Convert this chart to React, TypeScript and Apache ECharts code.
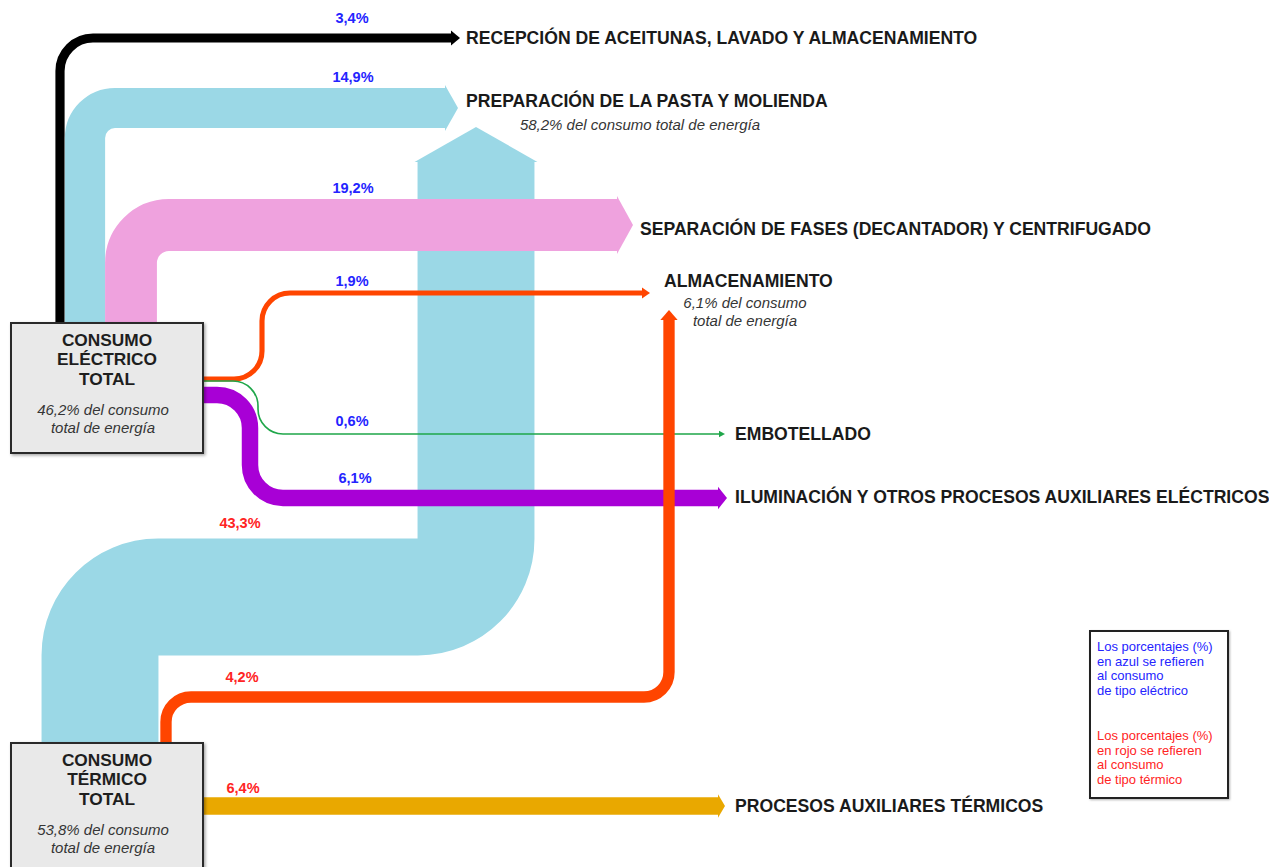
import React, { useEffect, useRef } from "react";
import * as echarts from "echarts";

const FONT = '"Liberation Sans", Arial, Helvetica, sans-serif';

// ---------------- DATA ----------------
const sourceNames = ["CONSUMO\nELÉCTRICO\nTOTAL", "CONSUMO\nTÉRMICO\nTOTAL"];
const sourceShares = [46.2, 53.8]; // % del consumo total de energía

const destinationNames = [
  "RECEPCIÓN DE ACEITUNAS, LAVADO Y ALMACENAMIENTO",
  "PREPARACIÓN DE LA PASTA Y MOLIENDA",
  "SEPARACIÓN DE FASES (DECANTADOR) Y CENTRIFUGADO",
  "ALMACENAMIENTO",
  "EMBOTELLADO",
  "ILUMINACIÓN Y OTROS PROCESOS AUXILIARES ELÉCTRICOS",
  "PROCESOS AUXILIARES TÉRMICOS",
];
const destinationShares: (number | null)[] = [null, 58.2, null, 6.1, null, null, null];

const electricTargets = [0, 1, 2, 3, 4, 5];
const electricValues = [3.4, 14.9, 19.2, 1.9, 0.6, 6.1];

const thermalTargets = [1, 3, 6];
const thermalValues = [43.3, 4.2, 6.4];

const legendElectric = ["Los porcentajes (%)", "en azul se refieren", "al consumo", "de tipo eléctrico"];
const legendThermal = ["Los porcentajes (%)", "en rojo se refieren", "al consumo", "de tipo térmico"];

// ---------------- LAYOUT / STYLE ----------------
const PX_PER_PCT = 2.7;
const BLUE_TXT = "#2424ff";
const RED_TXT = "#ff2424";

type FlowLayout = {
  color: string;
  pts: number[][];
  radii: number[];
  headLen: number;
  headExtra: number;
  label: number[];
  order: number;
};

const flowLayout: Record<string, FlowLayout> = {
  "1-1": { color: "#9BD8E6", pts: [[100, 745], [100, 597], [476, 597], [476, 127]], radii: [58, 58], headLen: 35, headExtra: 3, label: [240, 523], order: 0 },
  "0-0": { color: "#000000", pts: [[60, 326], [60, 38], [460, 38]], radii: [33], headLen: 9, headExtra: 3, label: [352, 18], order: 1 },
  "0-1": { color: "#9BD8E6", pts: [[85, 326], [85, 108], [458, 108]], radii: [30], headLen: 13, headExtra: 3, label: [353, 77], order: 2 },
  "0-2": { color: "#EFA2DE", pts: [[131, 326], [131, 225], [633, 225]], radii: [38], headLen: 16, headExtra: 3, label: [353, 188], order: 3 },
  "0-3": { color: "#FF4500", pts: [[200, 379], [262, 379], [262, 293], [650, 293]], radii: [28, 28], headLen: 8, headExtra: 3, label: [352, 281], order: 4 },
  "0-4": { color: "#1FA64A", pts: [[200, 381], [258, 381], [258, 434], [725, 434]], radii: [25, 25], headLen: 6, headExtra: 2.5, label: [352, 421], order: 5 },
  "0-5": { color: "#A800D6", pts: [[200, 395], [250, 395], [250, 498], [727, 498]], radii: [33, 33], headLen: 9, headExtra: 3, label: [355, 478], order: 6 },
  "1-3": { color: "#FF4500", pts: [[166, 745], [166, 697], [669, 697], [669, 310]], radii: [25, 25], headLen: 10, headExtra: 3, label: [242, 677], order: 7 },
  "1-6": { color: "#E9A800", pts: [[200, 806], [725, 806]], radii: [], headLen: 7, headExtra: 3, label: [243, 788], order: 8 },
};

const nodeLayout = [
  { rect: [11, 323, 192, 130], title: [107, 330], sub: [103, 400] },
  { rect: [11, 743, 192, 150], title: [107, 750], sub: [103, 820] },
];

const destLayout = [
  { pos: [466, 38] },
  { pos: [466, 101], sub: [640, 115], breakSub: false },
  { pos: [640, 229] },
  { pos: [664, 281], sub: [745, 293], breakSub: true },
  { pos: [735, 434] },
  { pos: [735, 497] },
  { pos: [735, 806] },
];

const fmt = (v: number) => v.toFixed(1).replace(".", ",");

type Flow = { source: number; target: number; value: number; layout: FlowLayout };
const flows: Flow[] = [
  ...electricTargets.map((t, i) => ({ source: 0, target: t, value: electricValues[i], layout: flowLayout[`0-${t}`] })),
  ...thermalTargets.map((t, i) => ({ source: 1, target: t, value: thermalValues[i], layout: flowLayout[`1-${t}`] })),
].sort((a, b) => a.layout.order - b.layout.order);

function buildPath(pts: number[][], radii: number[]) {
  let d = `M${pts[0][0]},${pts[0][1]}`;
  for (let i = 1; i < pts.length - 1; i++) {
    const a = pts[i - 1], p = pts[i], b = pts[i + 1];
    const r = radii[i - 1] || 0;
    const li = Math.hypot(p[0] - a[0], p[1] - a[1]);
    const lo = Math.hypot(b[0] - p[0], b[1] - p[1]);
    const din = [(p[0] - a[0]) / li, (p[1] - a[1]) / li];
    const dout = [(b[0] - p[0]) / lo, (b[1] - p[1]) / lo];
    const A = [p[0] - din[0] * r, p[1] - din[1] * r];
    const B = [p[0] + dout[0] * r, p[1] + dout[1] * r];
    const k = 0.5523 * r;
    d += ` L${A[0]},${A[1]} C${A[0] + din[0] * k},${A[1] + din[1] * k} ${B[0] - dout[0] * k},${B[1] - dout[1] * k} ${B[0]},${B[1]}`;
  }
  const last = pts[pts.length - 1];
  d += ` L${last[0]},${last[1]}`;
  return d;
}

function renderFlow(params: any, api: any) {
  const f = flows[params.dataIndex];
  const L = f.layout;
  const pct = api.value(1);
  const w = Math.abs(api.size([0, pct * PX_PER_PCT])[1]);
  const pts: number[][] = L.pts.map((p) => api.coord(p));
  const tip = pts[pts.length - 1];
  const prev = pts[pts.length - 2];
  const len = Math.hypot(tip[0] - prev[0], tip[1] - prev[1]);
  const dir = [(tip[0] - prev[0]) / len, (tip[1] - prev[1]) / len];
  const bodyEnd = [tip[0] - dir[0] * L.headLen, tip[1] - dir[1] * L.headLen];
  const bodyPts = [...pts.slice(0, -1), bodyEnd];
  const perp = [-dir[1], dir[0]];
  const hh = w / 2 + L.headExtra;
  const head = [
    [bodyEnd[0] + perp[0] * hh, bodyEnd[1] + perp[1] * hh],
    tip,
    [bodyEnd[0] - perp[0] * hh, bodyEnd[1] - perp[1] * hh],
  ];
  const lab = api.coord(L.label);
  return {
    type: "group",
    children: [
      {
        type: "path",
        shape: { pathData: buildPath(bodyPts, L.radii) },
        style: { fill: "none", stroke: L.color, lineWidth: w, lineCap: "butt", lineJoin: "round" },
      },
      { type: "polygon", shape: { points: head }, style: { fill: L.color } },
      {
        type: "text",
        x: lab[0],
        y: lab[1],
        style: {
          text: fmt(pct) + "%",
          fill: f.source === 0 ? BLUE_TXT : RED_TXT,
          font: `bold 14.5px ${FONT}`,
          align: "center",
          verticalAlign: "middle",
        },
      },
    ],
  };
}

function renderNode(params: any, api: any) {
  const i = params.dataIndex;
  const N = nodeLayout[i];
  const share = api.value(1);
  const tl = api.coord([N.rect[0], N.rect[1]]);
  const br = api.coord([N.rect[0] + N.rect[2], N.rect[1] + N.rect[3]]);
  const t = api.coord(N.title);
  const s = api.coord(N.sub);
  return {
    type: "group",
    children: [
      {
        type: "rect",
        shape: { x: tl[0], y: tl[1], width: br[0] - tl[0], height: br[1] - tl[1] },
        style: { fill: "#e9e9e9", stroke: "#2a2a2a", lineWidth: 2, shadowBlur: 3, shadowOffsetX: 1.5, shadowOffsetY: 1.5, shadowColor: "rgba(0,0,0,0.35)" },
      },
      {
        type: "text",
        x: t[0],
        y: t[1],
        style: { text: sourceNames[i], fill: "#1e1e1e", font: `bold 17.3px ${FONT}`, lineHeight: 19.5, align: "center", verticalAlign: "top" },
      },
      {
        type: "text",
        x: s[0],
        y: s[1],
        style: { text: `${fmt(share)}% del consumo\ntotal de energía`, fill: "#353535", font: `italic 15px ${FONT}`, lineHeight: 18, align: "center", verticalAlign: "top" },
      },
    ],
  };
}

function renderDest(params: any, api: any) {
  const i = params.dataIndex;
  const D: any = destLayout[i];
  const p = api.coord(D.pos);
  const children: any[] = [
    {
      type: "text",
      x: p[0],
      y: p[1],
      style: { text: destinationNames[i], fill: "#1a1a1a", font: `bold 17.6px ${FONT}`, align: "left", verticalAlign: "middle" },
    },
  ];
  const share = destinationShares[i];
  if (share != null && D.sub) {
    const s = api.coord(D.sub);
    children.push({
      type: "text",
      x: s[0],
      y: s[1],
      style: {
        text: `${fmt(share)}% del consumo${D.breakSub ? "\n" : " "}total de energía`,
        fill: "#353535",
        font: `italic 15px ${FONT}`,
        lineHeight: 18,
        align: "center",
        verticalAlign: "top",
      },
    });
  }
  return { type: "group", children };
}

export default function App() {
  const ref = useRef<HTMLDivElement>(null);
  useEffect(() => {
    if (!ref.current) return;
    const chart = echarts.init(ref.current, null, { renderer: "svg" });
    const legendLines = [
      ...legendElectric.map((t, i) => ({ t, y: 640 + i * 14.6, c: BLUE_TXT })),
      ...legendThermal.map((t, i) => ({ t, y: 729 + i * 14.6, c: RED_TXT })),
    ];
    chart.setOption({
      animation: false,
      backgroundColor: "#ffffff",
      grid: { left: 0, right: 0, top: 0, bottom: 0 },
      xAxis: { type: "value", min: 0, max: 1269, show: false },
      yAxis: { type: "value", min: 0, max: 867, inverse: true, show: false },
      series: [
        {
          type: "custom",
          name: "flows",
          renderItem: renderFlow,
          data: flows.map((f, i) => [i, f.value]),
          z: 2,
          silent: true,
        },
        {
          type: "custom",
          name: "sources",
          renderItem: renderNode,
          data: sourceShares.map((s, i) => [i, s]),
          z: 3,
          silent: true,
        },
        {
          type: "custom",
          name: "destinations",
          renderItem: renderDest,
          data: destinationNames.map((_, i) => [i, destinationShares[i] ?? 0]),
          z: 3,
          silent: true,
        },
      ],
      graphic: [
        {
          type: "rect",
          shape: { x: 1090, y: 631, width: 138, height: 167 },
          style: { fill: "#ffffff", stroke: "#222222", lineWidth: 2, shadowBlur: 2, shadowOffsetX: 1, shadowOffsetY: 1, shadowColor: "rgba(0,0,0,0.3)" },
          z: 10,
        },
        ...legendLines.map((l) => ({
          type: "text",
          x: 1097,
          y: l.y,
          style: { text: l.t, fill: l.c, font: `13px ${FONT}`, verticalAlign: "top" },
          z: 11,
        })),
      ],
    });
    return () => chart.dispose();
  }, []);
  return <div ref={ref} style={{ position: "fixed", left: 0, top: 0, width: 1269, height: 867 }} />;
}
